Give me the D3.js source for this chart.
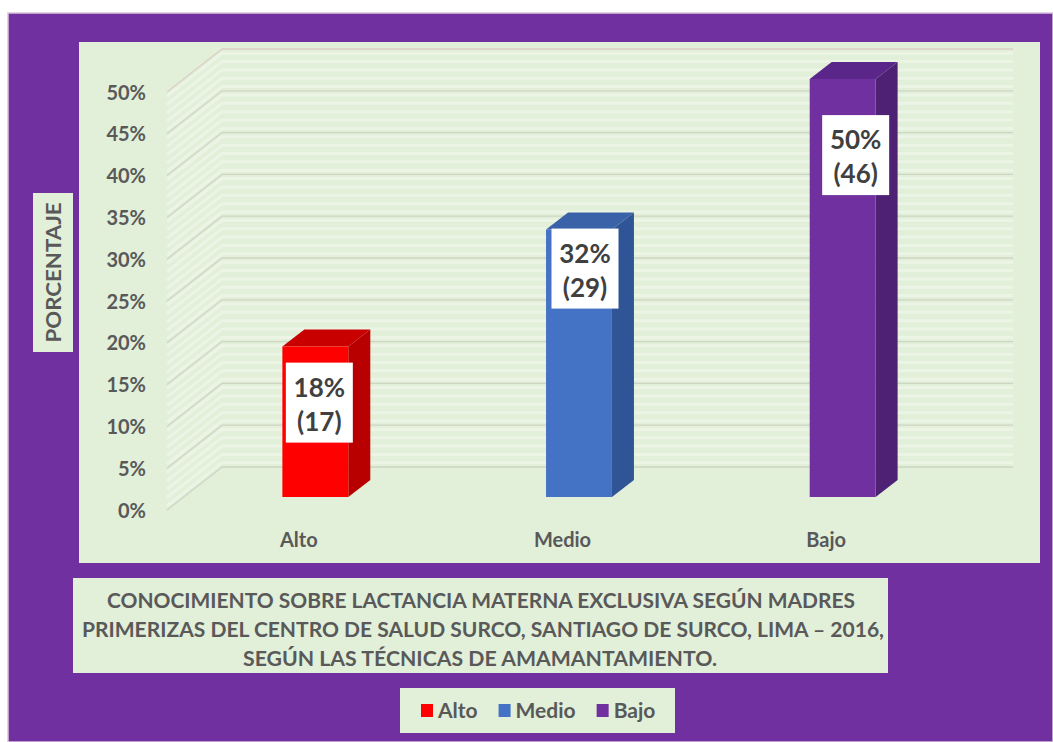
<!DOCTYPE html>
<html>
<head>
<meta charset="utf-8">
<script src="https://cdn.jsdelivr.net/npm/d3@7/dist/d3.min.js"></script>
<style>
  html, body { margin: 0; padding: 0; background: #ffffff; }
  svg { display: block; }
  text { font-family: Lato, "Open Sans", sans-serif; font-weight: bold; }
</style>
</head>
<body>
<svg id="chart" width="1053" height="742"></svg>
<script>
// ---------- DATA ----------
const categories = ["Alto", "Medio", "Bajo"];
const percentages = [18, 32, 50];
const counts = [17, 29, 46];
const yTicks = [0, 5, 10, 15, 20, 25, 30, 35, 40, 45, 50];
const yAxisTitle = "PORCENTAJE";
const titleLines = [
  "CONOCIMIENTO SOBRE LACTANCIA MATERNA EXCLUSIVA SEGÚN MADRES",
  "PRIMERIZAS DEL CENTRO DE  SALUD SURCO, SANTIAGO DE SURCO, LIMA – 2016,",
  "SEGÚN LAS TÉCNICAS DE AMAMANTAMIENTO."
];

// ---------- STYLE / LAYOUT ----------
const W = 1053, H = 742;
const purple = "#7030a0";
const panel = "#e2efd9";
const textCol = "#595959";
const faces = [
  { front: "#ff0000", side: "#b80000", top: "#c80000" },
  { front: "#4472c4", side: "#2f5597", top: "#3a62a8" },
  { front: "#7030a0", side: "#4f2175", top: "#5b2689" }
];
const DX = 55, DY = -43;           // depth projection of the 3D box
const Z0 = 0.3, Z1 = 0.7;          // bar front / back depth
const labelShiftX = [4, 6, 13];
const labelShiftY = [16, -1, 36];

const svg = d3.select("#chart");

// background
svg.append("rect").attr("x", 0).attr("y", 0).attr("width", W).attr("height", H).attr("fill", "#fff");
svg.append("rect").attr("x", 8).attr("y", 13).attr("width", W - 8).attr("height", H - 13)
  .attr("fill", purple).attr("stroke", "#d8c4dc").attr("stroke-width", 1.5);

// plot panel
svg.append("rect").attr("x", 79).attr("y", 42).attr("width", 961).attr("height", 521).attr("fill", panel);

// scales
const y = d3.scaleLinear().domain([0, 50]).range([510, 92]);
const x = d3.scaleBand().domain(categories).range([167, 958]).padding(0);
const proj = (px, v, z) => [px + z * DX, y(v) + z * DY];
const xLeft = 167, xRight = 958;

const g = svg.append("g");

// wall stripes (texture)
const stripeVals = d3.range(0.5, 50, 1);
const stripes = g.append("g").attr("stroke", "#ffffff").attr("stroke-opacity", 0.35).attr("stroke-width", 3).attr("fill", "none");
stripeVals.forEach(v => {
  const a = proj(xLeft, v, 0), b = proj(xLeft, v, 1), c = proj(xRight, v, 1);
  stripes.append("path").attr("d", `M${a[0]},${a[1]}L${b[0]},${b[1]}L${c[0]},${c[1]}`);
});

// gridlines on side and back wall
const grid = g.append("g").attr("fill", "none").attr("stroke-width", 1.3);
yTicks.forEach(v => {
  const a = proj(xLeft, v, 0), b = proj(xLeft, v, 1), c = proj(xRight, v, 1);
  grid.append("path").attr("d", `M${a[0]},${a[1]}L${b[0]},${b[1]}L${c[0]},${c[1]}`)
    .attr("stroke", v === 50 ? "#dcd0c4" : "#cdd6c4");
});

// y axis labels
const yAxis = d3.axisLeft(y).tickValues(yTicks).tickFormat(d => d + "%").tickSize(0).tickPadding(0);
const ya = svg.append("g").attr("transform", "translate(146,0)").call(yAxis);
ya.select(".domain").remove();
ya.selectAll("text").attr("fill", textCol).style("font-size", "20px")
  .style("font-family", "Lato, sans-serif").style("font-weight", "bold").attr("dy", "0.35em");

// bars
const bw = x.bandwidth() * 0.25;
const bars = g.append("g");
categories.forEach((c, i) => {
  const cx = x(c) + x.bandwidth() / 2;
  const x0 = cx - bw / 2, x1 = cx + bw / 2;
  const v = percentages[i];
  const f00 = proj(x0, 0, Z0), f10 = proj(x1, 0, Z0), f11 = proj(x1, v, Z0), f01 = proj(x0, v, Z0);
  const b10 = proj(x1, 0, Z1), b11 = proj(x1, v, Z1), b01 = proj(x0, v, Z1);
  const pts = arr => arr.map(p => p.join(",")).join(" ");
  bars.append("polygon").attr("points", pts([f10, b10, b11, f11])).attr("fill", faces[i].side);
  bars.append("polygon").attr("points", pts([f01, f11, b11, b01])).attr("fill", faces[i].top);
  bars.append("polygon").attr("points", pts([f00, f10, f11, f01])).attr("fill", faces[i].front);

  // data label
  const lx = (f00[0] + f10[0]) / 2 + labelShiftX[i];
  const ly = f01[1] + labelShiftY[i];
  const lg = svg.append("g").attr("transform", `translate(${lx},${ly})`);
  lg.append("rect").attr("x", -33.5).attr("y", 0).attr("width", 67).attr("height", 80).attr("fill", "#ffffff");
  lg.append("text").attr("x", 0).attr("y", 34).attr("text-anchor", "middle")
    .attr("fill", "#404040").style("font-size", "26px").text(v + "%");
  lg.append("text").attr("x", 0).attr("y", 68).attr("text-anchor", "middle")
    .attr("fill", "#404040").style("font-size", "26px").text("(" + counts[i] + ")");
});

// category labels
svg.append("g").selectAll("text").data(categories).join("text")
  .attr("x", d => x(d) + x.bandwidth() / 2)
  .attr("y", 547)
  .attr("text-anchor", "middle")
  .attr("fill", textCol).style("font-size", "20px")
  .text(d => d);

// y axis title box
svg.append("rect").attr("x", 33).attr("y", 193).attr("width", 40).attr("height", 159).attr("fill", panel);
svg.append("text").attr("transform", "translate(61,272.5) rotate(-90)")
  .attr("text-anchor", "middle").attr("fill", textCol).style("font-size", "21px")
  .attr("textLength", 140).attr("lengthAdjust", "spacingAndGlyphs")
  .text(yAxisTitle);

// title box
svg.append("rect").attr("x", 73).attr("y", 578).attr("width", 815).attr("height", 95).attr("fill", panel);
const tSpans = [
  { cx: 481, w: 748, y: 608 },
  { cx: 483, w: 802, y: 637 },
  { cx: 480, w: 474, y: 666 }
];
titleLines.forEach((t, i) => {
  svg.append("text").attr("x", tSpans[i].cx).attr("y", tSpans[i].y)
    .attr("text-anchor", "middle").attr("fill", textCol).style("font-size", "20px")
    .attr("textLength", tSpans[i].w).attr("lengthAdjust", "spacingAndGlyphs")
    .text(t);
});

// legend
svg.append("rect").attr("x", 400).attr("y", 688).attr("width", 275).attr("height", 45).attr("fill", panel);
let lx = 421;
categories.forEach((c, i) => {
  svg.append("rect").attr("x", lx).attr("y", 704).attr("width", 12).attr("height", 13).attr("fill", faces[i].front);
  const t = svg.append("text").attr("x", lx + 17).attr("y", 718).attr("fill", textCol)
    .style("font-size", "21px").text(c);
  lx += 17 + t.node().getComputedTextLength() + 21;
});
</script>
</body>
</html>
